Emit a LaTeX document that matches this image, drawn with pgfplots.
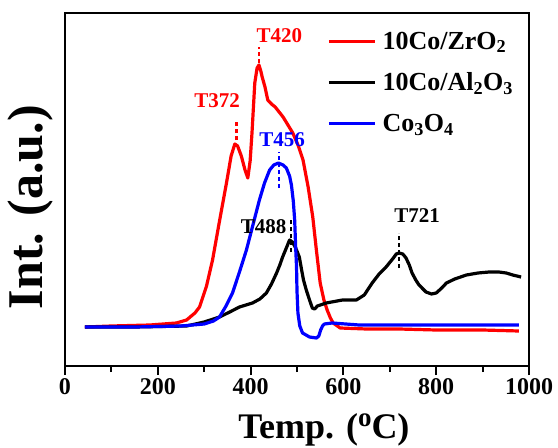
\documentclass[border=0pt]{standalone}
\usepackage{fontspec}
\setmainfont{Liberation Serif}
\usepackage{pgfplots}
\pgfplotsset{compat=1.18}

\pgfplotstableread{
T v
43 39
100 40
183 41
240 43
262 46
280 53
290 59
305 80
318 106
333 145
348 183
358 210
366 222
372 220
380 210
388 196
394 188
399 205
403 233
409 283
414 298
418 301
422 295
425 289
431 279
437 266
445 262
453 259
470 249
491 233
503 220
513 206
524 179
534 149
542 115
550 83
558 66
565 56
572 48
578 43
593 38
650 37
720 37
800 36
900 36
978 35
}\zro

\pgfplotstableread{
T v
43 39
150 39
262 40
300 44
333 49
355 54
376 59
404 63
420 67
434 73
445 82
456 93
463 101
469 109
477 118
484 126
490 124
495 120
499 116
505 109
510 96
514 86
520 76
527 66
533 58
538 57
544 60
563 63
598 66
628 66
645 71
662 83
677 92
692 99
706 107
714 112
720 113
728 112
735 108
742 101
748 93
756 86
763 81
778 74
790 72
800 73
812 78
822 83
840 87
865 91
890 93
914 94
935 94
951 93
965 91
983 89
}\alo

\pgfplotstableread{
T v
43 39
150 39
250 40
300 42
320 45
333 49
347 60
361 73
376 94
391 116
405 141
419 166
430 183
441 196
450 201
460 203
470 201
477 198
484 190
488 181
492 165
495 146
497 120
499 99
500 75
502 53
506 40
512 33
527 29
542 28
547 30
551 36
555 40
559 42
576 43
634 41
800 41
978 41
}\coo

\newcommand{\tkfont}{\fontsize{24}{28}\selectfont\bfseries}
\newcommand{\lgfont}{\fontsize{26}{30}\selectfont\bfseries}
\newcommand{\pkfont}{\fontsize{21}{24}\selectfont\bfseries}

\begin{document}
\begin{tikzpicture}
\useasboundingbox (-65pt,-82pt) rectangle (493pt,366pt);
\begin{axis}[
  at={(0,0)}, anchor=south west,
  width=464pt, height=353pt, scale only axis,
  xmin=0, xmax=1000, ymin=0, ymax=353,
  xtick={0,200,...,1000}, minor x tick num=1,
  ytick=\empty, xtick pos=bottom, tick align=outside,
  major tick length=9pt, minor tick length=6pt,
  tick style={line width=2pt, black},
  axis line style={line width=2pt},
  /pgf/number format/assume math mode=true,
  /pgf/number format/1000 sep={},
  ticklabel style={font=\tkfont},
  xlabel={Temp. (\raisebox{0.7ex}{\fontsize{27}{30}\selectfont o}C)},
  ylabel={Int. (a.u.)},
  xlabel style={font=\fontsize{36}{40}\selectfont\bfseries, at={(axis description cs:0.558,-0.18)}, anchor=center},
  ylabel style={font=\fontsize{50}{54}\selectfont\bfseries, at={(axis description cs:-0.075,0.45)}, anchor=center},
  clip=false,
  every axis plot/.append style={line width=3.2pt, line join=round},
  legend image code/.code={\draw[#1] (0pt,0pt) -- (46pt,0pt);},
  legend cell align=left,
  legend style={draw=none, fill=none, at={(axis description cs:0.565,0.947)}, anchor=north west,
    font=\lgfont, inner sep=0pt, column sep=6pt, row sep=22pt, nodes={inner sep=0pt}},
]
\addplot[red] table[x=T, y=v] {\zro};
\addlegendentry{10Co/ZrO\textsubscript{2}}
\addplot[black] table[x=T, y=v] {\alo};
\addlegendentry{10Co/Al\textsubscript{2}O\textsubscript{3}}
\addplot[blue] table[x=T, y=v] {\coo};
\addlegendentry{Co\textsubscript{3}O\textsubscript{4}}

\draw[red, line width=2.5pt, dash pattern=on 4pt off 3pt] (axis cs:370,226) -- (axis cs:370,244);
\draw[red, line width=2.5pt, dash pattern=on 4pt off 3pt] (axis cs:418,303) -- (axis cs:418,319);
\draw[blue, line width=2.5pt, dash pattern=on 4pt off 3pt] (axis cs:461,178) -- (axis cs:461,214);
\draw[black, line width=2.5pt, dash pattern=on 4pt off 3pt] (axis cs:487,114) -- (axis cs:487,146);
\draw[black, line width=2.5pt, dash pattern=on 4pt off 3pt] (axis cs:720,98) -- (axis cs:720,133);
\node[red, font=\pkfont] at (axis cs:328,265) {T372};
\node[red, font=\pkfont] at (axis cs:462,330) {T420};
\node[blue, font=\pkfont] at (axis cs:468,226) {T456};
\node[black, font=\pkfont] at (axis cs:428,139) {T488};
\node[black, font=\pkfont] at (axis cs:759,150) {T721};
\end{axis}
\end{tikzpicture}
\end{document}
